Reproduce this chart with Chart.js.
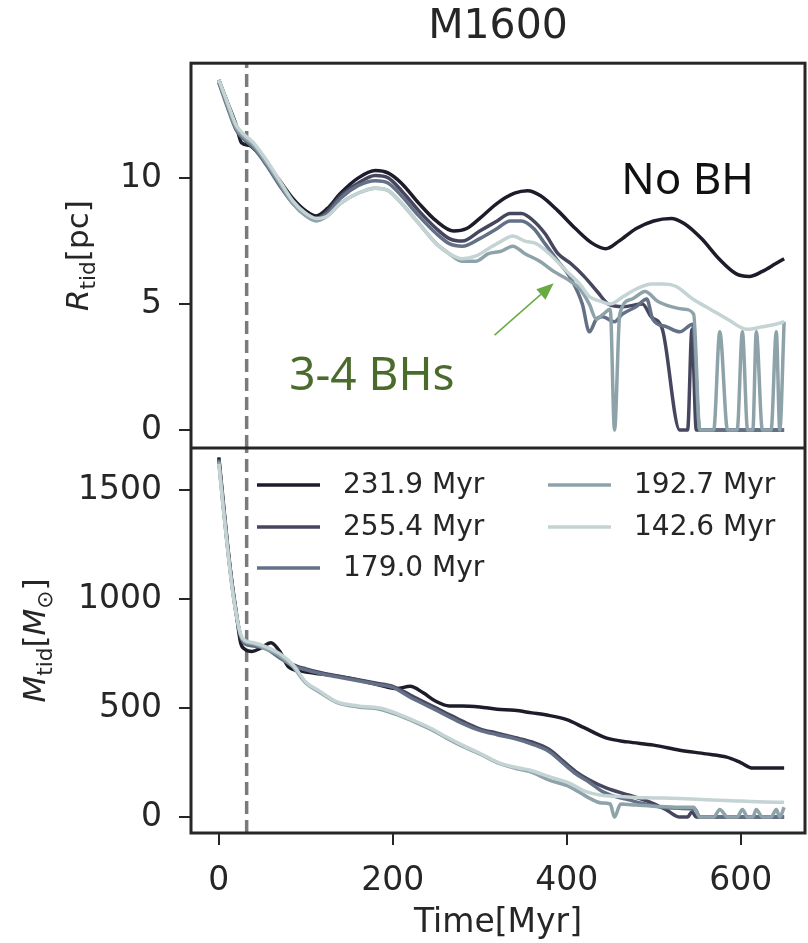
<!DOCTYPE html>
<html>
<head>
<meta charset="utf-8">
<script src="https://cdn.jsdelivr.net/npm/chart.js@4.4.1/dist/chart.umd.min.js"></script>
<style>
  body { margin: 0; background: #fff; }
  #wrap { position: relative; width: 808px; height: 943px; }
  canvas { position: absolute; left: 0; }
  #topChart { top: 0; }
  #bottomChart { top: 448px; }
</style>
</head>
<body>
<div id="wrap">
  <canvas id="topChart" width="808" height="448"></canvas>
  <canvas id="bottomChart" width="808" height="495"></canvas>
</div>
<script>
// series labels and colours (bone-like colormap)
const labels = ['231.9 Myr', '255.4 Myr', '179.0 Myr', '192.7 Myr', '142.6 Myr'];
const colors = ['#1c1c2a', '#46465f', '#647086', '#8ea3a9', '#c4d3d3'];

const timeTicks = [0, 200, 400, 600];
const rTicks = [0, 5, 10];
const mTicks = [0, 500, 1000, 1500];
const cutTime = 32;   // dashed vertical line

// R_tid [pc] vs time [Myr]
const r2319 = [[0,13.9],[10,13.0],[20,12.1],[26,11.4],[35,11.3],[45,11.0],[55,10.6],[70,9.9],[85,9.2],[100,8.7],[112,8.5],[125,8.8],[140,9.4],[160,10.0],[180,10.3],[195,10.2],[210,9.8],[230,9.0],[250,8.3],[270,7.9],[285,8.0],[300,8.4],[320,9.0],[340,9.4],[355,9.5],[370,9.3],[390,8.7],[410,8.0],[430,7.4],[445,7.2],[460,7.5],[480,8.0],[500,8.3],[520,8.4],[535,8.2],[555,7.6],[575,6.8],[595,6.2],[610,6.1],[625,6.3],[640,6.6],[650,6.8]];
const r2554 = [[0,13.8],[10,12.9],[20,12.0],[28,11.6],[40,11.2],[55,10.6],[70,9.8],[85,9.1],[100,8.6],[112,8.4],[125,8.7],[140,9.3],[160,9.8],[180,10.1],[195,10.0],[210,9.5],[230,8.7],[250,8.0],[265,7.6],[280,7.5],[300,7.9],[320,8.3],[335,8.6],[348,8.6],[362,8.3],[375,7.8],[390,7.0],[405,6.6],[420,6.1],[435,5.5],[448,5.0],[465,4.9],[487,5.0],[497,4.5],[510,4.0],[530,0],[539,0],[544,4.0],[549,0],[650,0]];
const r1790 = [[0,13.8],[10,12.8],[20,11.9],[30,11.5],[40,11.2],[55,10.5],[70,9.7],[85,9.0],[100,8.6],[112,8.4],[125,8.6],[140,9.2],[160,9.7],[180,9.9],[195,9.8],[210,9.3],[230,8.5],[250,7.8],[265,7.4],[280,7.3],[300,7.6],[320,8.0],[335,8.3],[348,8.3],[362,8.0],[375,7.4],[390,6.7],[405,6.0],[418,5.0],[426,3.9],[434,4.4],[441,4.5],[455,4.3],[464,4.6],[480,4.9],[492,5.2],[499,4.4],[515,4.1],[530,3.9],[545,4.2],[553,0],[650,0]];
const r1927 = [[0,13.9],[10,12.9],[20,12.0],[30,11.6],[40,11.3],[55,10.6],[70,9.8],[85,9.0],[100,8.5],[112,8.3],[125,8.5],[140,9.0],[160,9.4],[180,9.6],[195,9.5],[210,9.0],[230,8.2],[250,7.4],[265,7.0],[280,6.7],[295,6.7],[310,7.0],[325,7.1],[338,7.3],[352,7.0],[369,6.7],[385,6.3],[400,6.0],[415,5.6],[426,5.0],[434,4.4],[442,4.6],[450,4.8],[455,0],[461,4.6],[475,5.2],[490,5.5],[505,5.1],[520,4.9],[535,4.8],[546,4.6],[553,0],[569,0],[576,3.9],[585,0],[596,0],[602,3.9],[608,0],[614,0],[618,3.9],[625,0],[635,0],[641,3.9],[645,0],[650,4.3]];
const r1426 = [[0,13.9],[10,13.0],[20,12.1],[30,11.7],[40,11.4],[55,10.7],[70,9.9],[85,9.1],[100,8.6],[112,8.4],[125,8.5],[140,9.0],[160,9.4],[180,9.6],[195,9.5],[210,9.0],[230,8.2],[250,7.4],[265,7.0],[280,6.8],[295,6.9],[310,7.2],[325,7.5],[338,7.7],[352,7.5],[365,7.4],[380,7.0],[400,6.3],[415,5.8],[426,5.3],[440,5.1],[450,5.0],[465,5.3],[480,5.6],[498,5.8],[512,5.8],[526,5.7],[545,5.2],[565,4.8],[585,4.4],[607,4.0],[625,4.1],[640,4.2],[650,4.3]];

// M_tid [Msun] vs time [Myr]
const m2319 = [[0,1650],[5,1450],[10,1250],[15,1080],[20,940],[25,800],[30,770],[38,760],[48,775],[60,800],[70,760],[80,690],[95,670],[110,660],[130,650],[150,637],[170,620],[190,600],[205,590],[220,600],[235,570],[250,530],[265,510],[280,510],[300,505],[320,495],[340,490],[360,478],[377,468],[400,447],[420,410],[446,362],[470,345],[500,330],[530,307],[560,290],[584,275],[600,250],[614,225],[630,225],[650,225]];
const m2554 = [[0,1640],[5,1430],[10,1240],[15,1070],[20,930],[25,830],[30,800],[40,790],[55,775],[70,735],[85,700],[100,680],[120,660],[140,645],[160,630],[180,615],[200,600],[220,560],[240,520],[260,480],[280,440],[300,405],[320,385],[340,365],[360,345],[380,310],[395,260],[410,210],[426,170],[446,133],[472,100],[495,70],[515,32],[530,0],[539,0],[544,25],[549,0],[650,0]];
const m1790 = [[0,1640],[5,1440],[10,1245],[15,1075],[20,935],[25,830],[30,795],[40,785],[55,770],[70,730],[85,695],[100,675],[120,655],[140,640],[160,625],[180,610],[200,595],[220,550],[240,510],[260,470],[280,430],[300,398],[320,378],[340,360],[360,335],[380,300],[395,250],[410,200],[426,160],[440,120],[455,95],[470,80],[490,60],[510,45],[530,40],[548,35],[553,0],[650,0]];
const m1927 = [[0,1630],[5,1425],[10,1235],[15,1065],[20,935],[25,835],[30,805],[40,795],[55,770],[70,740],[85,690],[100,615],[115,575],[136,525],[160,505],[185,495],[205,470],[223,440],[245,400],[262,362],[280,325],[300,290],[323,245],[345,220],[357,210],[380,170],[403,140],[426,87],[440,65],[450,60],[455,0],[462,60],[480,55],[500,50],[530,45],[546,45],[553,0],[569,0],[576,35],[585,0],[596,0],[602,35],[608,0],[614,0],[618,35],[625,0],[635,0],[641,35],[645,0],[650,45]];
const m1426 = [[0,1620],[5,1420],[10,1230],[15,1060],[20,930],[25,840],[30,810],[40,800],[55,780],[70,750],[85,700],[100,620],[115,580],[136,528],[160,510],[185,500],[205,475],[223,445],[245,405],[262,367],[280,330],[300,293],[323,248],[345,225],[357,216],[380,185],[403,156],[420,120],[440,100],[460,95],[480,90],[500,88],[530,85],[560,80],[590,75],[620,70],[650,68]];

const rSeries = [r2319, r2554, r1790, r1927, r1426];
const mSeries = [m2319, m2554, m1790, m1927, m1426];

Chart.defaults.font.family = 'DejaVu Sans';
Chart.defaults.color = '#262626';

function makeDatasets(series) {
  return series.map((s, i) => ({
    label: labels[i],
    data: s.map(p => ({ x: p[0], y: p[1] })),
    borderColor: colors[i],
    borderWidth: 3.5,
    pointRadius: 0,
    cubicInterpolationMode: 'monotone',
    order: series.length - i
  }));
}

const tickGrid = { display: true, drawOnChartArea: false, drawTicks: true, tickLength: 12, color: '#262626', lineWidth: 2 };

// drop the extra space Chart.js keeps for the end labels
function noScalePadding(s) {
  s.paddingTop = 0; s.paddingBottom = 0; s.paddingLeft = 0; s.paddingRight = 0;
}

// frame + dashed line
const framePlugin = {
  id: 'frame',
  beforeDatasetsDraw(chart) {
    const { ctx, chartArea: a, scales } = chart;
    const x = scales.x.getPixelForValue(cutTime);
    ctx.save();
    ctx.strokeStyle = '#7a7a7a';
    ctx.lineWidth = 3.5;
    ctx.setLineDash([13, 6]);
    ctx.beginPath();
    ctx.moveTo(x, a.bottom);
    ctx.lineTo(x, a.top);
    ctx.stroke();
    ctx.restore();
  },
  afterDatasetsDraw(chart) {
    const { ctx, chartArea: a } = chart;
    ctx.save();
    ctx.strokeStyle = '#262626';
    ctx.lineWidth = 3;
    ctx.strokeRect(a.left, a.top, a.right - a.left, a.bottom - a.top);
    ctx.restore();
  }
};

// rotated y label with subscript pieces
function drawYLabel(ctx, cx, cy, parts, size) {
  ctx.save();
  ctx.translate(cx, cy);
  ctx.rotate(-Math.PI / 2);
  const fontOf = p => (p.italic ? 'italic ' : '') + (p.sub ? size * 0.7 : size) + 'px "DejaVu Sans"';
  let total = 0;
  parts.forEach(p => { ctx.font = fontOf(p); p.w = ctx.measureText(p.t).width; total += p.w; });
  let x = -total / 2;
  ctx.fillStyle = '#262626';
  ctx.textBaseline = 'alphabetic';
  parts.forEach(p => {
    ctx.font = fontOf(p);
    ctx.fillText(p.t, x, size * 0.36 + (p.sub ? size * 0.22 : 0));
    x += p.w;
  });
  ctx.restore();
}

const topPlugin = {
  id: 'topExtras',
  afterDraw(chart) {
    const { ctx, chartArea: a, scales } = chart;
    const xs = scales.x, ys = scales.y;
    drawYLabel(ctx, 77, (a.top + a.bottom) / 2,
      [{ t: 'R', italic: true }, { t: 'tid', sub: true }, { t: '[pc]' }], 31);
    ctx.save();
    ctx.textAlign = 'center';
    ctx.textBaseline = 'middle';
    ctx.fillStyle = '#111111';
    ctx.font = '44px "Noto Sans"';
    ctx.fillText('No BH', xs.getPixelForValue(539), ys.getPixelForValue(9.85));
    ctx.fillStyle = '#4b6b2d';
    ctx.font = '46px "Noto Sans"';
    ctx.fillText('3-4 BHs', xs.getPixelForValue(176), ys.getPixelForValue(2.1));
    // arrow
    const x0 = xs.getPixelForValue(317), y0 = ys.getPixelForValue(3.77);
    const x1 = xs.getPixelForValue(385), y1 = ys.getPixelForValue(5.83);
    const ang = Math.atan2(y1 - y0, x1 - x0);
    const hl = 17, hw = 7;
    ctx.strokeStyle = '#6aaa45';
    ctx.fillStyle = '#6aaa45';
    ctx.lineWidth = 1.5;
    ctx.beginPath();
    ctx.moveTo(x0, y0);
    ctx.lineTo(x1 - hl * Math.cos(ang), y1 - hl * Math.sin(ang));
    ctx.stroke();
    ctx.beginPath();
    ctx.moveTo(x1, y1);
    ctx.lineTo(x1 - hl * Math.cos(ang) + hw * Math.sin(ang), y1 - hl * Math.sin(ang) - hw * Math.cos(ang));
    ctx.lineTo(x1 - hl * Math.cos(ang) - hw * Math.sin(ang), y1 - hl * Math.sin(ang) + hw * Math.cos(ang));
    ctx.closePath();
    ctx.fill();
    ctx.restore();
  }
};

const bottomPlugin = {
  id: 'bottomExtras',
  afterDraw(chart) {
    const { ctx, chartArea: a } = chart;
    drawYLabel(ctx, 34, (a.top + a.bottom) / 2,
      [{ t: 'M', italic: true }, { t: 'tid', sub: true }, { t: '[' }, { t: 'M', italic: true }, { t: '\u2299', sub: true }, { t: ']' }], 31);
    // legend, two columns like matplotlib ncol=2
    const slots = [[66, 37], [66, 79], [66, 120], [357, 37], [357, 79]];
    ctx.save();
    ctx.font = '28px "DejaVu Sans"';
    ctx.textBaseline = 'middle';
    chart.data.datasets.forEach((ds, i) => {
      const lx = a.left + slots[i][0], ly = a.top + slots[i][1];
      ctx.strokeStyle = ds.borderColor;
      ctx.lineWidth = 3.5;
      ctx.beginPath();
      ctx.moveTo(lx, ly);
      ctx.lineTo(lx + 63, ly);
      ctx.stroke();
      ctx.fillStyle = '#262626';
      ctx.fillText(ds.label, lx + 86, ly + 1);
    });
    ctx.restore();
  }
};

const plainTick = v => String(v);

const xScaleBase = {
  type: 'linear',
  min: -32,
  max: 674,
  afterBuildTicks: s => { s.ticks = timeTicks.map(v => ({ value: v })); }
};

new Chart(document.getElementById('topChart'), {
  type: 'line',
  data: { datasets: makeDatasets(rSeries) },
  options: {
    responsive: false,
    animation: false,
    layout: { padding: { left: 0, right: 3, top: 0, bottom: 0 } },
    plugins: {
      legend: { display: false },
      tooltip: { enabled: false },
      title: {
        display: true,
        text: 'M1600',
        fullSize: false,
        color: '#262626',
        font: { size: 41, weight: 'normal', lineHeight: 1.2 },
        padding: { top: 3, bottom: 11 }
      }
    },
    scales: {
      x: Object.assign({}, xScaleBase, { display: false, afterFit: noScalePadding }),
      y: {
        min: -0.71,
        max: 14.56,
        afterBuildTicks: s => { s.ticks = rTicks.map(v => ({ value: v })); },
        afterFit: s => { s.width = 191; noScalePadding(s); },
        grid: tickGrid,
        border: { display: false },
        ticks: { font: { size: 33 }, padding: 17, color: '#262626', callback: plainTick }
      }
    }
  },
  plugins: [framePlugin, topPlugin]
});

new Chart(document.getElementById('bottomChart'), {
  type: 'line',
  data: { datasets: makeDatasets(mSeries) },
  options: {
    responsive: false,
    animation: false,
    layout: { padding: { left: 0, right: 3, top: 0, bottom: 0 } },
    plugins: { legend: { display: false }, tooltip: { enabled: false } },
    scales: {
      x: Object.assign({}, xScaleBase, {
        afterFit: s => { s.height = 110; noScalePadding(s); },
        grid: tickGrid,
        border: { display: false },
        ticks: { font: { size: 33 }, padding: 17, color: '#262626', maxRotation: 0, callback: plainTick },
        title: { display: true, text: 'Time[Myr]', font: { size: 33 }, color: '#262626', padding: { top: 0, bottom: 0 } }
      }),
      y: {
        min: -73,
        max: 1693,
        afterBuildTicks: s => { s.ticks = mTicks.map(v => ({ value: v })); },
        afterFit: s => { s.width = 191; noScalePadding(s); },
        grid: tickGrid,
        border: { display: false },
        ticks: { font: { size: 33 }, padding: 17, color: '#262626', callback: plainTick }
      }
    }
  },
  plugins: [framePlugin, bottomPlugin]
});
</script>
</body>
</html>
